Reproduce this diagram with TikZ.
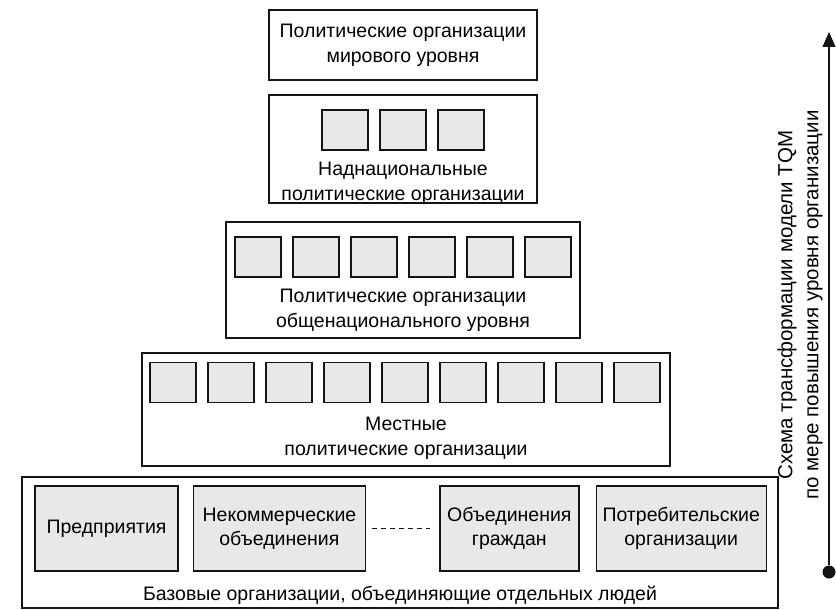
\documentclass[tikz,border=0pt]{standalone}
\usepackage{fontspec}
\setmainfont{Liberation Sans}
\usetikzlibrary{arrows.meta,positioning}
\definecolor{Ink}{HTML}{141414}
\definecolor{Dots}{HTML}{E8E8E8}
\tikzset{
  tier/.style={draw=Ink, line width=1.1pt, inner sep=0pt},
  cell/.style={
    draw=Ink, line width=1.7pt, fill=Dots,
    minimum width=46, minimum height=40, inner sep=0pt
  },
  unit/.style={
    draw=Ink, line width=1.4pt, fill=Dots, minimum height=85,
    align=center, inner sep=0pt, font=\fontsize{19.5}{24}\selectfont
  },
  caption/.style={align=center, inner sep=0pt, font=\fontsize{19.5}{25}\selectfont},
  flow/.style={-{Triangle[length=15pt,width=13pt]}, line width=1.3pt, draw=Ink},
  dot/.style={circle, fill=Ink, minimum size=13, inner sep=0pt}
}

\begin{document}
\begin{tikzpicture}[x=1pt,y=-1pt]
    \useasboundingbox (0,0) rectangle (836,610);
    % levels of the pyramid
    \node[tier,minimum width=268,minimum height=70] (world) at (403,45) {};
    \node[caption] (worldtxt) at (403,45.5) {Политические организации\\мирового уровня};
    \node[tier,minimum width=268,minimum height=108] (supra) at (403,149) {};
    \foreach \i in {0,1,2}
      \node[cell] (supra\i) at ({345+58*\i},130) {};
    \node[caption] (supratxt) at (403,183) {Наднациональные\\политические организации};
    \node[tier,minimum width=354,minimum height=116] (nation) at (403,280) {};
    \foreach \i in {0,...,5}
      \node[cell] (nation\i) at ({258+58*\i},257) {};
    \node[caption] (nationtxt) at (403,310) {Политические организации\\общенационального уровня};
    \node[tier,minimum width=528,minimum height=113] (local) at (406,409.5) {};
    \foreach \i in {0,...,8}
      \node[cell] (local\i) at ({173+58*\i},382.5) {};
    \node[caption] (localtxt) at (406,438.5) {Местные\\политические организации};
    \node[tier,minimum width=756,minimum height=131] (base) at (400,542.5) {};
    \node[unit,minimum width=143] (firms) at (106.5,528.5) {Предприятия};
    \node[unit,minimum width=172,right=14 of firms] (nonprofit) {Некоммерческие\\объединения};
    \node[unit,minimum width=139,right=73 of nonprofit] (citizens) {Объединения\\граждан};
    \node[unit,minimum width=170,right=16 of citizens] (consumers) {Потребительские\\организации};
    \draw[Ink,line width=0.9pt,dashed,dash pattern=on 5pt off 4pt,shorten <=6pt,shorten >=9pt]
      (nonprofit) -- (citizens);
    \node[caption] (basetxt) at (400,595) {Базовые организации, объединяющие отдельных людей};
    % axis of growth
    \node[dot] (start) at (829,572) {};
    \coordinate (top) at (829,32);
    \draw[flow] (start) -- (top);
    \node[caption,rotate=90,font=\fontsize{20.5}{26}\selectfont] (axis) at (800,305)
      {Схема трансформации модели TQM\\по мере повышения уровня организации};
\end{tikzpicture}
\end{document}
